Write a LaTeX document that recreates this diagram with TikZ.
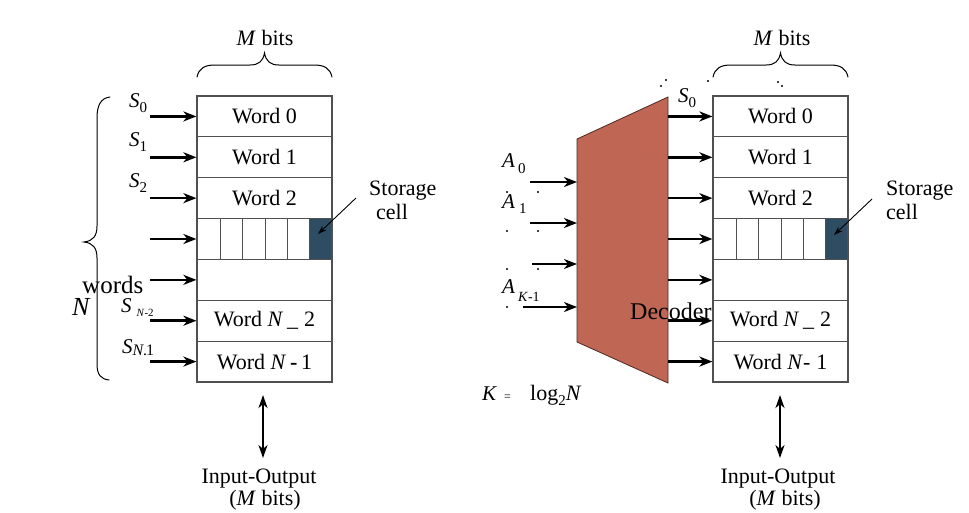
\documentclass[tikz,border=0pt]{standalone}
\usepackage{fontspec}
\setmainfont{Liberation Serif}
\usetikzlibrary{arrows.meta}
\definecolor{cellc}{RGB}{46,76,98}
\definecolor{decc}{RGB}{192,102,84}
\definecolor{boxc}{RGB}{80,80,80}
\begin{document}
\begin{tikzpicture}[x=1pt,y=-1pt,
  rowbox/.style={draw=boxc, line width=1.2pt, minimum width=135pt, minimum height=40.86pt, inner sep=0pt, font=\fontsize{22}{26}\selectfont},
  lbl/.style={inner sep=0pt, anchor=base west, font=\fontsize{21}{25}\selectfont},
  ctr/.style={inner sep=0pt, anchor=base, font=\fontsize{22}{26}\selectfont},
  selarrow/.style={line width=2.5pt, -{Stealth[length=13pt,width=10pt,inset=4pt]}},
  ioarrow/.style={line width=2.2pt, {Stealth[length=13pt,width=9pt,inset=4pt]}-{Stealth[length=13pt,width=9pt,inset=4pt]}},
  cellarrow/.style={line width=0.9pt, -{Stealth[length=9pt,width=6pt]}},
  bracepath/.style={line width=1pt, line cap=round},
  speck/.style={fill=black}
]
\useasboundingbox (0,0) rectangle (969,512);

% ---------- storage cells (dark) ----------
\fill[cellc] (309,219) rectangle (332,259);
\fill[cellc] (825,219) rectangle (848,259);
\foreach \x in {220,242,265,287,309} \draw[boxc, line width=0.9pt] (\x,219) -- (\x,259);
\foreach \x in {736,758,781,803,825} \draw[boxc, line width=0.9pt] (\x,219) -- (\x,259);

% ---------- left memory ----------
\foreach \i/\t in {0/{Word 0},1/{Word 1},2/{Word 2},3/{},4/{},5/{Word \textit{N}\,\_\;2},6/{Word \textit{N}\,\textbf{-}\,1}}{
  \node[rowbox] (L\i) at (264.5,{96+40.857*(\i+0.5)}) {\t};
  \coordinate (ls\i) at (150,{96+40.857*(\i+0.5)});
  \draw[selarrow] (ls\i) -- (L\i.west);
}
% ---------- right memory ----------
\foreach \i/\t in {0/{Word 0},1/{Word 1},2/{Word 2},3/{},4/{},5/{Word \textit{N}\,\_\;2},6/{Word \textit{N}-\;1}}{
  \node[rowbox] (R\i) at (780.5,{96+40.857*(\i+0.5)}) {\t};
}

% ---------- decoder ----------
\draw[fill=decc, draw=black!60!decc, line width=0.8pt] (577,139) -- (668,97) -- (668,383) -- (577,342) -- cycle;
\foreach \i in {0,...,6}{
  \coordinate (rs\i) at (668,{96+40.857*(\i+0.5)});
  \draw[selarrow] (rs\i) -- (R\i.west);
}
\coordinate (ai0) at (530,182); \coordinate (ae0) at (577,182);
\coordinate (ai1) at (530,223); \coordinate (ae1) at (577,223);
\coordinate (ai2) at (532,264); \coordinate (ae2) at (577,264);
\coordinate (ai3) at (523,307); \coordinate (ae3) at (577,307);
\foreach \i in {0,...,3} \draw[selarrow] (ai\i) -- (ae\i);

% ---------- S labels ----------
\node[lbl] (ls0t) at (129,107) {\textit{S}\raisebox{-5pt}{\fontsize{15}{15}\selectfont 0}};
\node[lbl] (ls1t) at (129,146) {\textit{S}\raisebox{-5pt}{\fontsize{15}{15}\selectfont 1}};
\node[lbl] (ls2t) at (129,187) {\textit{S}\raisebox{-5pt}{\fontsize{15}{15}\selectfont 2}};
\node[lbl] (ls5t) at (121,312) {\textit{S}\hspace{5pt}\raisebox{-4pt}{\fontsize{11}{11}\selectfont\textit{N}-2}};
\node[lbl] (ls6t) at (122,353) {\textit{S}\raisebox{-2pt}{\fontsize{16}{16}\selectfont\textit{N}\kern-1pt.\kern-1pt1}};
\node[lbl] (rs0t) at (678,102) {\textit{S}\raisebox{-5pt}{\fontsize{15}{15}\selectfont 0}};

% ---------- A labels ----------
\node[lbl] (a0t) at (502,167) {\textit{A}\hspace{3pt}\raisebox{-6pt}{\fontsize{15}{15}\selectfont 0}};
\node[lbl] (a1t) at (502,208) {\textit{A}\hspace{4pt}\raisebox{-5pt}{\fontsize{15}{15}\selectfont 1}};
\node[lbl] (a3t) at (502,293) {\textit{A}\hspace{3pt}\raisebox{-8pt}{\fontsize{14}{14}\selectfont\textit{K}-1}};

% ---------- N words ----------
\node[lbl, font=\fontsize{26}{30}\selectfont] (nt) at (72,315) {\textit{N}};
\node[lbl, font=\fontsize{25}{30}\selectfont] (wordst) at (82,293) {words};

% ---------- left brace ----------
\draw[bracepath] (110,97) .. controls (101,98) and (97,105) .. (97,118) -- (97,226) .. controls (97,236) and (93,241) .. (84,242) .. controls (93,243) and (97,248) .. (97,258) -- (97,364) .. controls (97,375) and (101,379) .. (109,380);

% ---------- M bits braces ----------
\draw[bracepath] (197,77) .. controls (199,68) and (205,65) .. (215,65) -- (250,65) .. controls (259,65) and (263,61) .. (264.5,53) .. controls (266,61) and (270,65) .. (279,65) -- (314,65) .. controls (324,65) and (330,68) .. (332,77);
\draw[bracepath] (713,77) .. controls (715,68) and (721,65) .. (731,65) -- (766,65) .. controls (775,65) and (779,61) .. (780.5,53) .. controls (782,61) and (786,65) .. (795,65) -- (830,65) .. controls (840,65) and (846,68) .. (848,77);
\node[ctr] (mb1) at (265,45) {\textit{M} bits};
\node[ctr] (mb2) at (782,45) {\textit{M} bits};

% ---------- storage cell labels ----------
\node[lbl, font=\fontsize{22}{26}\selectfont] (st1) at (369,195) {Storage};
\node[lbl, font=\fontsize{22}{26}\selectfont] (ce1) at (376,219) {cell};
\node[lbl, font=\fontsize{22}{26}\selectfont] (st2) at (886,195) {Storage};
\node[lbl, font=\fontsize{22}{26}\selectfont] (ce2) at (886,219) {cell};
\coordinate (cp1) at (356,198); \coordinate (cq1) at (318,234);
\coordinate (cp2) at (872,199); \coordinate (cq2) at (834,235);
\draw[cellarrow] (cp1) -- (cq1);
\draw[cellarrow] (cp2) -- (cq2);

% ---------- input-output ----------
\coordinate (io1a) at (263,395); \coordinate (io1b) at (263,458);
\coordinate (io2a) at (780,395); \coordinate (io2b) at (780,458);
\draw[ioarrow] (io1a) -- (io1b);
\draw[ioarrow] (io2a) -- (io2b);
\node[ctr] (iot1) at (259,483) {Input-Output};
\node[ctr] (iom1) at (265,505) {(\textit{M} bits)};
\node[ctr] (iot2) at (778,483) {Input-Output};
\node[ctr] (iom2) at (785,505) {(\textit{M} bits)};

% ---------- K = log2 N ----------
\node[lbl] (kt) at (482,400) {\textit{K}};
\node[lbl, font=\fontsize{12}{12}\selectfont] (eqt) at (504,400) {=};
\node[lbl, font=\fontsize{22}{26}\selectfont] (logt) at (530,400) {log\raisebox{-5pt}{\fontsize{15}{15}\selectfont 2}\textit{N}};

% ---------- specks ----------
\foreach \p in {(661,86),(666,80),(708,81),(778,82),(782,86),(507,192),(538,192),(507,231),(538,231),(507,269),(538,269),(507,307)}
  \fill[speck] \p circle (1.1);

% ---------- decoder label ----------
\node[lbl, font=\fontsize{24}{28}\selectfont] (dect) at (630,319) {Decoder};
\end{tikzpicture}
\end{document}
